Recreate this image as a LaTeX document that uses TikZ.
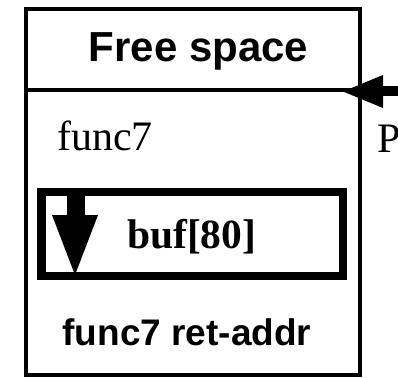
\documentclass[tikz,border=0pt]{standalone}
\usepackage{fontspec}
\setmainfont{Liberation Serif}
\newfontfamily\arialfont{Liberation Sans}
\begin{document}
\begin{tikzpicture}[x=1pt,y=-1pt,
  boxline/.style={draw=black,line width=4pt},
  innerline/.style={draw=black,line width=8.5pt},
  sanslabel/.style={inner sep=0pt,anchor=base,font=\arialfont\bfseries\fontsize{42}{42}\selectfont},
  seriflabel/.style={inner sep=0pt,anchor=base west,font=\fontsize{42}{42}\selectfont}]
\useasboundingbox (0,0) rectangle (398,377);
\fill[white] (0,0) rectangle (398,377);
% outer box
\draw[boxline] (25.5,9.5) rectangle (359.5,374.5);
\draw[boxline] (25.5,90) -- (359.5,90);
\node[sanslabel] (free) at (198.5,62) {Free space};
\node[seriflabel] (func) at (57,150) {func7};
% inner box
\draw[innerline] (41.5,192) rectangle (343,276);
\node[seriflabel,font=\bfseries\fontsize{41.5}{41.5}\selectfont] (buf) at (127,248) {buf[80]};
% down arrow in buf
\coordinate (dtip) at (75,275);
\fill (67,194) rectangle (85,217);
\fill (52,215) -- (98,215) -- (dtip) -- cycle;
\node[sanslabel,font=\arialfont\bfseries\fontsize{37}{37}\selectfont] (ret) at (187,345) {func7 ret-addr};
% pointer arrow
\coordinate (ptip) at (343,91.5);
\fill (380,86.5) rectangle (398,96.5);
\fill (ptip) -- (383,75) -- (383,108) -- cycle;
\node[seriflabel] (p) at (377,152) {P};
\end{tikzpicture}
\end{document}
